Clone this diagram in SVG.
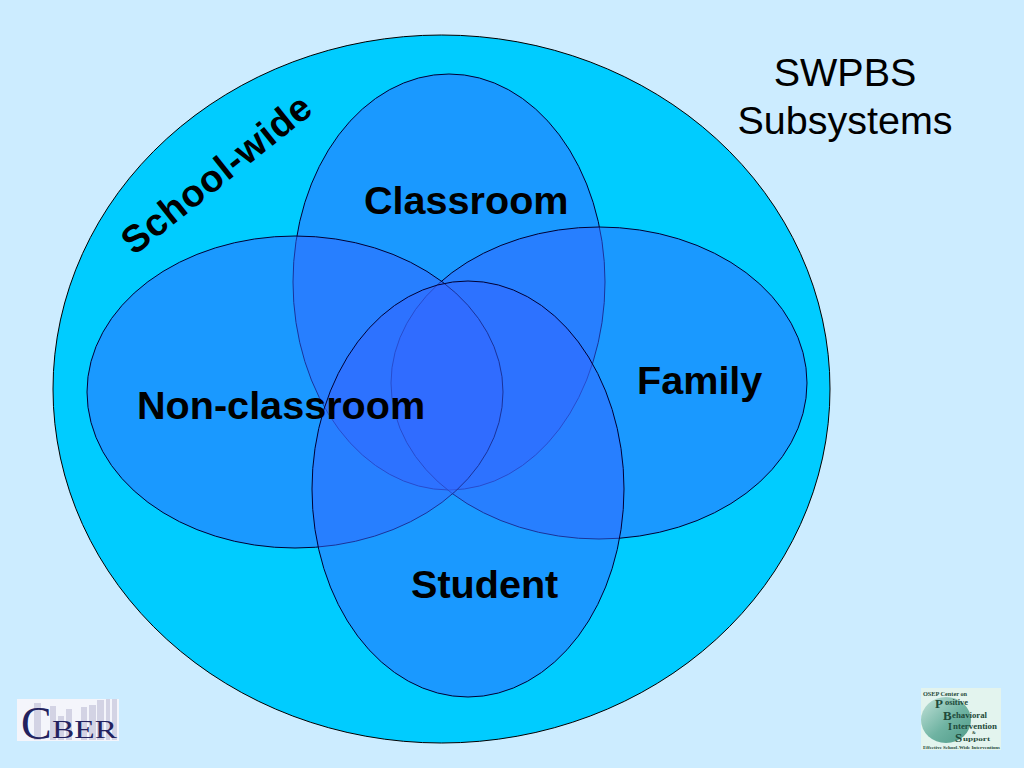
<svg xmlns="http://www.w3.org/2000/svg" width="1024" height="768" viewBox="0 0 1024 768">
<defs><linearGradient id="teal" x1="0" y1="0" x2="1" y2="1"><stop offset="0" stop-color="#c4e3da"/><stop offset=".55" stop-color="#6fb3a2"/><stop offset="1" stop-color="#4f9a88"/></linearGradient></defs>
<style>
.v{fill:#3366FF;fill-opacity:.5;stroke:#000033;stroke-width:1}
text{font-family:"Liberation Sans",Arial,sans-serif;fill:#000}
.b{font-weight:700;font-size:39.600px}
.t{font-size:39.500px;text-anchor:middle}
.l{font-family:"Liberation Serif","Times New Roman",serif;fill:#23235f}
.p{font-family:"Liberation Serif","Times New Roman",serif;font-weight:700;fill:#1f4a3a}
.bar{fill:#d3d3e4}
</style>
<rect width="1024" height="768" fill="#CCECFF"/>
<g id="school-wide"><ellipse cx="441.500" cy="389" rx="388.500" ry="354" fill="#00CCFF" stroke="#000" stroke-width="1"/></g>
<g id="classroom"><ellipse class="v" cx="449" cy="282" rx="156" ry="208"/></g>
<g id="family"><ellipse class="v" cx="599" cy="383" rx="208" ry="156"/></g>
<g id="non-classroom"><ellipse class="v" cx="295" cy="392" rx="208" ry="156"/></g>
<g id="student"><ellipse class="v" cx="468" cy="489" rx="156" ry="208"/></g>
<g id="connectors"/>
<g id="labels">
<text class="b" transform="translate(134,256) rotate(-38.500)" style="font-size:38px;letter-spacing:.7px">School-wide</text>
<text class="t" x="845" y="86">SWPBS</text><text class="t" x="845" y="134">Subsystems</text>
<text class="b" x="364" y="214">Classroom</text>
<text class="b" x="637" y="394">Family</text>
<text class="b" x="137" y="419">Non-classroom</text>
<text class="b" x="411" y="598">Student</text>
</g>
<g id="cber-logo">
<rect x="17" y="699" width="102" height="42" fill="#f4f5fb"/>
<path class="bar" d="M34 703h7v37h-7zM50 706h6v34h-6zM58 716h6v24h-6zM66 709h6v31h-6zM81 707h6v33h-6zM89 705h7v35h-7zM97 700h7v40h-7zM106 699h4v41h-4zM112 699h5v41h-5z"/>
<text class="l" x="21" y="739" font-size="46">C</text>
<text class="l" x="52" y="738" font-size="26" textLength="65" lengthAdjust="spacingAndGlyphs">BER</text>
</g>
<g id="pbis-logo">
<rect x="921" y="688" width="80" height="62" fill="#e3f4ee"/>
<ellipse cx="946" cy="720" rx="25" ry="23" fill="url(#teal)"/>
<text class="p" x="923" y="696" font-size="6.500" textLength="44" lengthAdjust="spacingAndGlyphs">OSEP Center on</text>
<text class="p" x="935" y="708" font-size="13">P</text><text class="p" x="945" y="705" font-size="8" textLength="23" lengthAdjust="spacingAndGlyphs">ositive</text>
<text class="p" x="943" y="720" font-size="13">B</text><text class="p" x="952" y="718" font-size="8" textLength="35" lengthAdjust="spacingAndGlyphs">ehavioral</text>
<text class="p" x="948" y="730" font-size="10">I</text><text class="p" x="953" y="729" font-size="8" textLength="44" lengthAdjust="spacingAndGlyphs">ntervention</text>
<text class="p" x="972" y="734" font-size="4.500">&amp;</text>
<text class="p" x="955" y="742" font-size="13">S</text><text class="p" x="963" y="741" font-size="7" textLength="27" lengthAdjust="spacingAndGlyphs">upport</text>
<text class="p" x="923" y="749" font-size="4.600" textLength="77" lengthAdjust="spacingAndGlyphs">Effective School-Wide Interventions</text>
</g>
</svg>
